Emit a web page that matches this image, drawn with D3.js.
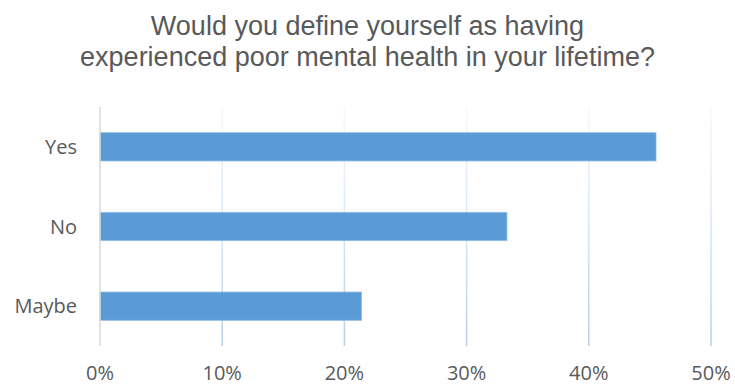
<!DOCTYPE html>
<html>
<head>
<meta charset="utf-8">
<script src="https://cdn.jsdelivr.net/npm/d3@7"></script>
<style>
  html, body { margin: 0; padding: 0; background: #fff; }
  svg { display: block; }
</style>
</head>
<body>
<svg id="chart" width="735" height="385"></svg>
<script>
// Survey answers and their share of respondents (%)
const categories = ["Yes", "No", "Maybe"];
const values = [45.5, 33.3, 21.4];
const tickValues = [0, 10, 20, 30, 40, 50];
const tickLabels = ["0%", "10%", "20%", "30%", "40%", "50%"];
const titleLines = [
  "Would you define yourself as having",
  "experienced poor mental health in your lifetime?"
];

const W = 735, H = 385;
const margin = { top: 107, right: 24, bottom: 39, left: 100 };
const svg = d3.select("#chart");

const x = d3.scaleLinear().domain([0, 50]).range([margin.left, 711]);
const y = d3.scaleBand().domain(categories)
  .range([margin.top, H - margin.bottom]).paddingInner(0.645).paddingOuter(0.3225);

// Gridlines fade toward the top
const defs = svg.append("defs");
const grad = defs.append("linearGradient").attr("id", "gridFade")
  .attr("gradientUnits", "userSpaceOnUse")
  .attr("x1", 0).attr("y1", margin.top).attr("x2", 0).attr("y2", H - margin.bottom);
grad.append("stop").attr("offset", "0%").attr("stop-color", "#bdd7ee").attr("stop-opacity", 0.15);
grad.append("stop").attr("offset", "100%").attr("stop-color", "#b4d0ec").attr("stop-opacity", 1);

svg.append("g").selectAll("rect.grid")
  .data(tickValues.filter(d => d > 0))
  .join("rect")
  .attr("x", d => x(d) - 0.75)
  .attr("y", margin.top)
  .attr("width", 1.5)
  .attr("height", H - margin.bottom - margin.top)
  .attr("fill", "url(#gridFade)");

// Bars
svg.append("g").selectAll("rect.bar")
  .data(categories.map((c, i) => ({ c, v: values[i] })))
  .join("rect")
  .attr("x", x(0))
  .attr("y", d => y(d.c))
  .attr("width", d => x(d.v) - x(0))
  .attr("height", y.bandwidth())
  .attr("fill", "#5b9bd5")
  .attr("stroke", "#8dbbe6")
  .attr("stroke-width", 0.8);

// Category axis line
svg.append("line")
  .attr("x1", x(0)).attr("x2", x(0))
  .attr("y1", margin.top).attr("y2", H - margin.bottom)
  .attr("stroke", "#d9d9d9").attr("stroke-width", 1.5);

// Category labels
svg.append("g").selectAll("text")
  .data(categories)
  .join("text")
  .attr("x", 77)
  .attr("y", d => y(d) + y.bandwidth() / 2)
  .attr("dy", "0.36em")
  .attr("text-anchor", "end")
  .attr("font-family", "'Open Sans', sans-serif")
  .attr("font-size", 20)
  .attr("fill", "#595959")
  .text(d => d);

// Value axis labels
svg.append("g").selectAll("text")
  .data(tickValues)
  .join("text")
  .attr("x", d => x(d))
  .attr("y", 380)
  .attr("text-anchor", "middle")
  .attr("font-family", "'Open Sans', sans-serif")
  .attr("font-size", 20)
  .attr("fill", "#595959")
  .text((d, i) => tickLabels[i]);

// Title
svg.append("g").selectAll("text")
  .data(titleLines)
  .join("text")
  .attr("x", W / 2)
  .attr("y", (d, i) => 35 + i * 31)
  .attr("text-anchor", "middle")
  .attr("font-family", "'Liberation Sans', Arial, sans-serif")
  .attr("font-size", 27)
  .attr("fill", "#595959")
  .text(d => d);
</script>
</body>
</html>
